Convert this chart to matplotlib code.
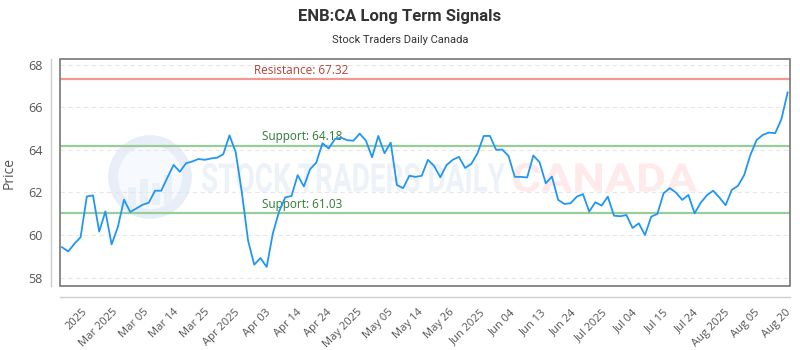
import numpy as np
import matplotlib
matplotlib.use("Agg")
import matplotlib.pyplot as plt
from matplotlib.patches import Rectangle, Circle, PathPatch
from matplotlib.textpath import TextPath
from matplotlib.font_manager import FontProperties
from matplotlib.transforms import Affine2D

# Data
prices = [
    59.43, 59.23, 59.59, 59.90, 61.81, 61.86, 60.16, 61.11, 59.56, 60.37,
    61.66, 61.08, 61.25, 61.42, 61.52, 62.08, 62.08, 62.70, 63.29, 62.97,
    63.37, 63.45, 63.57, 63.53, 63.59, 63.63, 63.79, 64.68, 63.90, 62.00,
    59.74, 58.61, 58.92, 58.50, 60.08, 61.10, 61.77, 61.83, 62.81, 62.28,
    63.09, 63.40, 64.31, 64.06, 64.50, 64.57, 64.45, 64.43, 64.76, 64.43,
    63.65, 64.65, 63.84, 64.34, 62.35, 62.20, 62.78, 62.73, 62.78, 63.53,
    63.24, 62.71, 63.28, 63.53, 63.67, 63.15, 63.34, 63.84, 64.65, 64.65,
    64.00, 64.01, 63.71, 62.73, 62.73, 62.70, 63.73, 63.42, 62.43, 62.74,
    61.65, 61.46, 61.49, 61.80, 61.92, 61.10, 61.54, 61.38, 61.80, 60.91,
    60.88, 60.94, 60.33, 60.55, 60.00, 60.86, 60.99, 61.96, 62.20, 61.99,
    61.65, 61.88, 61.02, 61.52, 61.87, 62.08, 61.76, 61.40, 62.12, 62.31,
    62.82, 63.76, 64.46, 64.70, 64.81, 64.78, 65.44, 66.69,
]
tick_labels = [
    "2025", "Mar 2025", "Mar 05", "Mar 14", "Mar 25", "Apr 2025", "Apr 03",
    "Apr 14", "Apr 24", "May 2025", "May 05", "May 14", "May 26", "Jun 2025",
    "Jun 04", "Jun 13", "Jun 24", "Jul 2025", "Jul 04", "Jul 15", "Jul 24",
    "Aug 2025", "Aug 05", "Aug 20",
]
resistance = 67.32
supports = [64.18, 61.03]

fig = plt.figure(figsize=(8, 3.5), dpi=100)
ax = fig.add_axes([0.0754, 0.183, 0.912, 0.6477])

# spines first: set_position resets the ticks
for side in ["top", "right"]:
    ax.spines[side].set_visible(False)
ax.spines["left"].set_position(("outward", 7))
ax.spines["bottom"].set_position(("outward", 8))
for side in ["left", "bottom"]:
    ax.spines[side].set_color("#cccccc")
    ax.spines[side].set_linewidth(1)
ax.add_patch(Rectangle((0, 0), 1, 1, transform=ax.transAxes, fill=False,
                       ec="#777777", lw=1.2, zorder=5, clip_on=False))

x = np.arange(len(prices))

# watermark, placed in pixels from the top-left corner
def wm_text(s, x0, y0, x1, y1, color):
    tp = TextPath((0, 0), s, size=1, prop=FontProperties(family="Roboto", weight="bold"))
    bb = tp.get_extents()
    sx = (x1 - x0) / 800 / bb.width
    sy = (y1 - y0) / 350 / bb.height
    tr = (Affine2D().translate(-bb.x0, -bb.y0).scale(sx, sy)
          .translate(x0 / 800, 1 - y1 / 350) + fig.transFigure)
    ax.add_patch(PathPatch(tp, transform=tr, fc=color, ec="none", zorder=0.5, clip_on=False))

wm_text("STOCK TRADERS DAILY", 202, 163, 505, 192, "#edf1f8")
wm_text("CANADA", 513, 163, 697, 192, "#feeaea")
ax.add_patch(Circle((1.50, 3.5 - 1.77), 0.37, transform=fig.dpi_scale_trans,
                    fc="#f6f9fd", ec="#e8eef7", lw=7, zorder=0.4, clip_on=False))
for bx, bh in [(128, 18), (140, 26), (152, 22), (164, 30)]:
    ax.add_patch(Rectangle((bx / 800, 1 - 205 / 350), 8 / 800, bh / 350,
                           transform=fig.transFigure, fc="#eaf0f8", ec="none", zorder=0.45))

# grid
for v in range(58, 69, 2):
    ax.axhline(v, color="#e6e6e6", lw=0.8, ls=(0, (4, 3)), zorder=1)

# levels
ax.axhline(resistance, color="#f29890", lw=1.6, zorder=2)
ax.text(31.0, resistance + 0.12, f"Resistance: {resistance:.2f}", color="#b5413a",
        fontsize=8.5, family="Open Sans", va="bottom", ha="left", zorder=3)
for s in supports:
    ax.axhline(s, color="#98cc98", lw=1.6, zorder=2)
    ax.text(32.2, s + 0.12, f"Support: {s:.2f}", color="#2f7a35",
            fontsize=8.5, family="Open Sans", va="bottom", ha="left", zorder=3)

ax.plot(x, prices, color="#2196f3", lw=1.3, zorder=4)

ax.set_xlim(-0.27, len(prices) - 1 + 0.37)
ax.set_ylim(57.61, 68.25)

ax.set_xticks(np.linspace(3.2, 116.6, len(tick_labels)))
ax.set_xticklabels(tick_labels, rotation=45, ha="right", rotation_mode="anchor",
                   fontsize=8, family="Open Sans", color="#555555")
ax.set_yticks(range(58, 69, 2))
ax.set_yticklabels([str(v) for v in range(58, 69, 2)], fontsize=9,
                   family="Open Sans", color="#555555")
ax.tick_params(axis="both", length=0)
ax.tick_params(axis="x", pad=7)
ax.tick_params(axis="y", pad=6)
ax.set_ylabel("Price", fontsize=10, family="Open Sans", color="#555555", labelpad=8)

fig.text(0.5, 1 - 16 / 350, "ENB:CA Long Term Signals", ha="center", va="center",
         fontsize=12, weight="bold", family="Roboto", color="#333333")
fig.text(0.5, 1 - 40 / 350, "Stock Traders Daily Canada", ha="center", va="center",
         fontsize=8, family="Roboto", color="#333333")

fig.savefig("out.png", dpi=100)
